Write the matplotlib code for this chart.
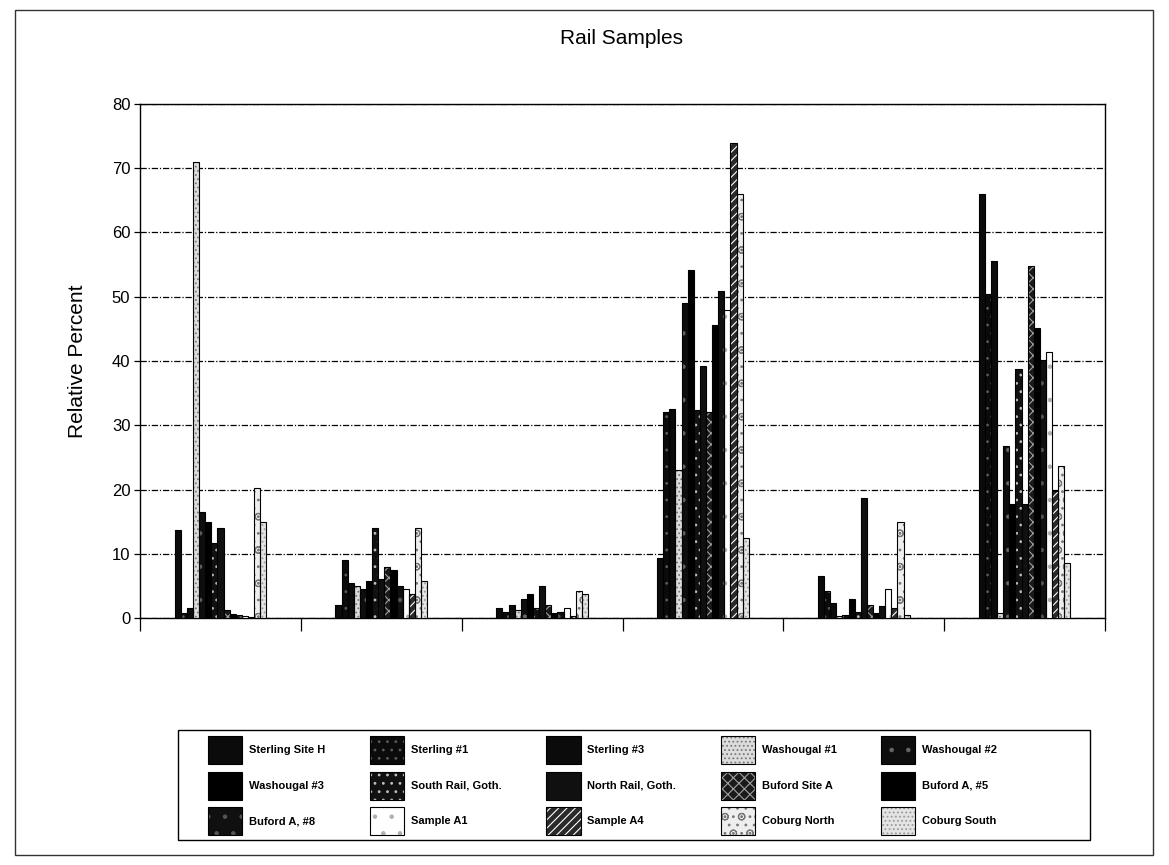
import numpy as np
import matplotlib
matplotlib.use("Agg")
import matplotlib.pyplot as plt
from matplotlib.patches import Patch, Rectangle

plt.rcParams['font.family'] = ['Liberation Sans', 'DejaVu Sans']
plt.rcParams['hatch.linewidth'] = 0.8

series_names = [
    "Sterling Site H", "Sterling #1", "Sterling #3", "Washougal #1", "Washougal #2",
    "Washougal #3", "South Rail, Goth.", "North Rail, Goth.", "Buford Site A", "Buford A, #5",
    "Buford A, #8", "Sample A1", "Sample A4", "Coburg North", "Coburg South",
]

# values per category group (one entry per series, in series order)
group1 = [13.7, 0.8, 1.5, 71.0, 16.5, 15.0, 11.7, 14.0, 1.2, 0.6, 0.5, 0.3, 0.2, 20.2, 15.0]
group2 = [2.0, 9.0, 5.5, 5.0, 4.5, 5.8, 14.0, 6.0, 8.0, 7.5, 5.0, 4.5, 3.8, 14.0, 5.8]
group3 = [1.5, 1.0, 2.0, 1.2, 3.0, 3.8, 1.5, 5.0, 2.0, 0.8, 1.0, 1.6, 0.3, 4.2, 3.8]
group4 = [9.4, 32.1, 32.6, 23.0, 49.1, 54.2, 32.4, 39.3, 32.1, 45.6, 50.9, 48.0, 74.0, 66.0, 12.5]
group5 = [6.5, 4.2, 2.3, 0.3, 0.5, 3.0, 1.0, 18.7, 2.0, 0.8, 1.8, 4.5, 1.5, 15.0, 0.5]
group6 = [66.0, 50.5, 55.5, 0.8, 26.8, 17.8, 38.8, 17.8, 54.8, 45.1, 40.1, 41.4, 19.8, 23.7, 8.5]
groups = [group1, group2, group3, group4, group5, group6]

y_ticks = [0, 10, 20, 30, 40, 50, 60, 70, 80]

# fill colour, hatch pattern, hatch colour for each series (monochrome print styles)
styles = [
    ("#0b0b0b", None, "#0b0b0b"),
    ("#0b0b0b", "..", "#5a5a5a"),
    ("#0b0b0b", None, "#0b0b0b"),
    ("#dcdcdc", "....", "#7a7a7a"),
    ("#0e0e0e", ".", "#666666"),
    ("#000000", None, "#000000"),
    ("#111111", "..", "#c0c0c0"),
    ("#101010", None, "#101010"),
    ("#1a1a1a", "xxx", "#a0a0a0"),
    ("#000000", None, "#000000"),
    ("#101010", ".", "#555555"),
    ("#ffffff", ".", "#b0b0b0"),
    ("#2a2a2a", "////", "#ffffff"),
    ("#eeeeee", "..o", "#777777"),
    ("#e4e4e4", "....", "#9a9a9a"),
]

W, H = 1169, 865
fig = plt.figure(figsize=(W / 100, H / 100), dpi=100)
ax = fig.add_axes([0.1198, 0.2855, 0.8255, 0.5943])

n_groups = len(groups)
n_series = len(series_names)
cluster_width = 0.57
bw = cluster_width / n_series
x = np.arange(n_groups)
data = np.array(groups)

for i in range(n_series):
    fc, hatch, hc = styles[i]
    xpos = x - cluster_width / 2 + bw * (i + 0.5)
    vals = data[:, i]
    ax.bar(xpos, vals, width=bw, color=fc, edgecolor=hc, hatch=hatch, linewidth=0, zorder=3)
    ax.bar(xpos, vals, width=bw, fill=False, edgecolor="black", linewidth=0.8, zorder=4)

ax.set_xlim(-0.5, n_groups - 0.5)
ax.set_ylim(0, 80)
ax.set_yticks(y_ticks)
ax.set_yticklabels([str(v) for v in y_ticks], fontsize=12)
ax.set_xticks(np.arange(-0.5, n_groups, 1.0))
ax.set_xticklabels([])
ax.tick_params(axis="x", direction="out", length=9, width=0.9, color="black")
ax.tick_params(axis="y", direction="out", length=4, width=0.9, color="black", pad=3)
ax.yaxis.grid(True, color="black", linestyle=(0, (5, 1.5, 1, 1.5)), linewidth=0.9, zorder=1)
ax.set_axisbelow(True)
for sp in ax.spines.values():
    sp.set_color("black")
    sp.set_linewidth(1.0)
ax.set_ylabel("Relative Percent", fontsize=15, labelpad=18)

fig.text(0.532, 0.956, "Rail Samples", ha="center", va="center", fontsize=15)

# legend: filled row by row, matplotlib fills columns first
handles = []
for fc, hatch, hc in styles:
    handles.append((Patch(facecolor=fc, edgecolor=hc, hatch=hatch, linewidth=0),
                    Patch(fill=False, edgecolor="black", linewidth=0.8)))
ncol = 5
nrow = 3
order = [r * ncol + c for c in range(ncol) for r in range(nrow)]
leg = fig.legend([handles[k] for k in order], [series_names[k] for k in order],
                 ncol=ncol, loc="upper left",
                 bbox_to_anchor=(208 / W, 1 - 736 / H),
                 frameon=False, borderpad=0.0, borderaxespad=0.0,
                 prop={"size": 8, "weight": "bold"},
                 handlelength=3.1, handleheight=3.5, labelspacing=0.68,
                 handletextpad=0.6, columnspacing=4.0)

# legend frame
fig.patches.append(Rectangle((178 / W, 1 - 840 / H), (1090 - 178) / W, (840 - 730) / H,
                             transform=fig.transFigure, fill=False, edgecolor="black",
                             linewidth=1.0))

# outer chart border
fig.patches.append(Rectangle((15 / W, 1 - 855 / H), (1153 - 15) / W, (855 - 10) / H,
                             transform=fig.transFigure, fill=False, edgecolor="#333333",
                             linewidth=1.0))

fig.savefig("out.png", dpi=100)
